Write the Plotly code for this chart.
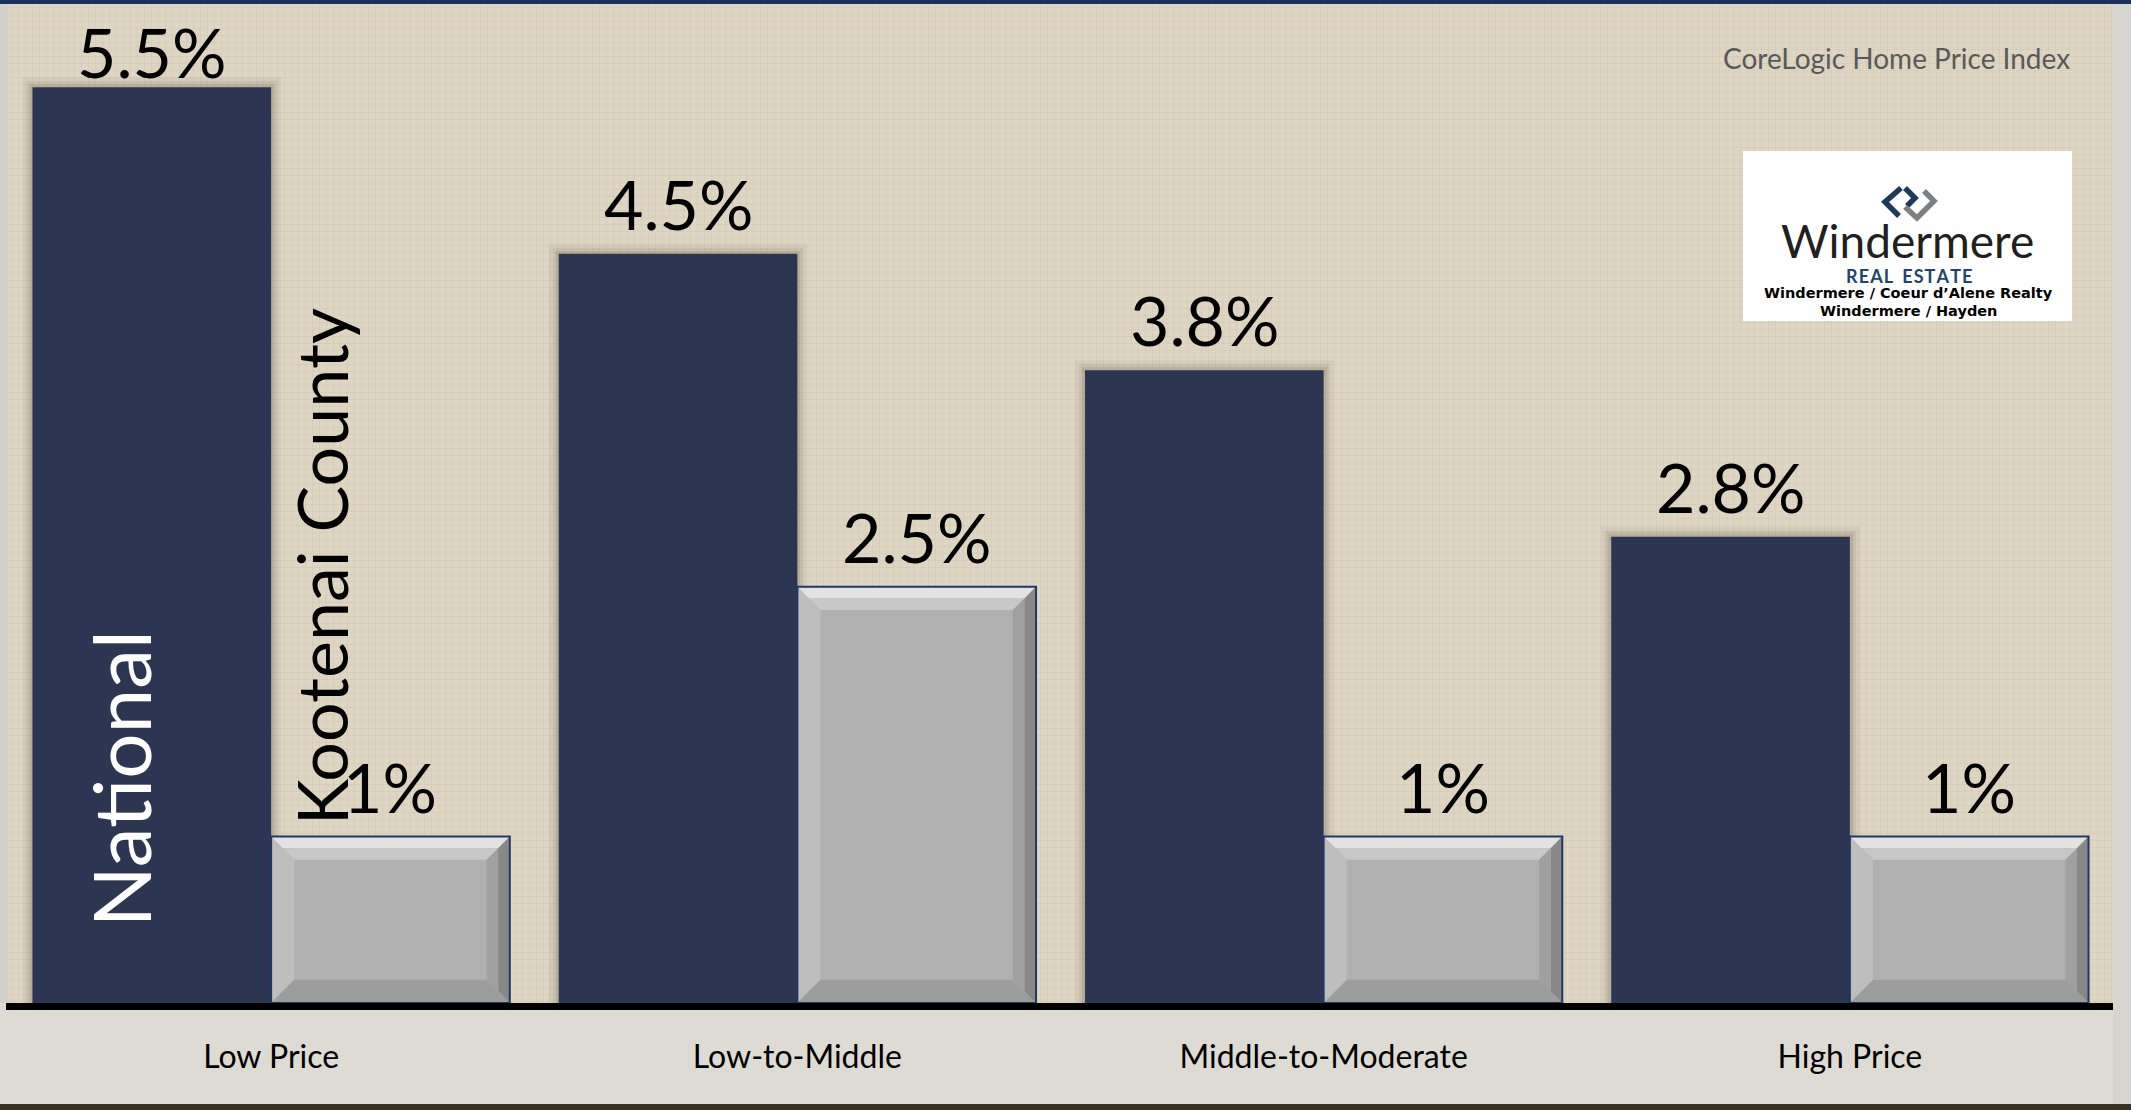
import plotly.graph_objects as go

# ---- data -----------------------------------------------------------------
categories = ["Low Price", "Low-to-Middle", "Middle-to-Moderate", "High Price"]
national = [5.5, 4.5, 3.8, 2.8]
kootenai = [1.0, 2.5, 1.0, 1.0]
series_names = ["National", "Kootenai County"]
source_note = "CoreLogic Home Price Index"

# ---- geometry of the page (pixels) ---------------------------------------
W, H = 2131, 1110
M_L, M_R, M_T, M_B = 8, 18, 4, 107
PW = W - M_L - M_R          # plot width
PH = H - M_T - M_B          # plot height
Y_MAX = 6.0
BARGAP = 0.093
BW = (1 - BARGAP) / 2       # width of one bar in category units

NAVY = "#2c3652"
GREY = "#b0b0b0"
OUTLINE = "#1f3864"


def px_x(px):
    """page pixel x -> paper x"""
    return (px - M_L) / PW


def px_y(py):
    """page pixel y (from top) -> paper y"""
    return (H - M_B - py) / PH


def value_to_px(v):
    """value -> page pixel y"""
    return H - M_B - v * PH / Y_MAX


xs = list(range(len(categories)))
n = len(categories)
UX = 1.0 / (PW / n)          # one pixel in category units
UY = Y_MAX / PH              # one pixel in value units

fig = go.Figure()

# woven linen backdrop filling the plotting area
fig.add_trace(go.Bar(x=[(n - 1) / 2], y=[Y_MAX], width=[n], offset=[-n / 2],
                     marker=dict(color="#ded5c2", line=dict(width=0),
                                 pattern=dict(shape="+", size=7, solidity=0.25,
                                              fgcolor="#c9bea8", fgopacity=0.35)),
                     hoverinfo="skip", showlegend=False))

# soft drop shadow around the national bars
for grow, alpha in [(10, 0.05), (6, 0.07), (3, 0.10)]:
    fig.add_trace(go.Bar(x=xs, y=[v + grow * UY for v in national],
                         width=[BW + 2 * grow * UX] * n,
                         offset=[-BW - grow * UX] * n,
                         marker=dict(color=f"rgba(40,30,15,{alpha})", line=dict(width=0)),
                         hoverinfo="skip", showlegend=False))

fig.add_trace(go.Bar(x=xs, y=national, name=series_names[0],
                     width=[BW] * n, offset=[-BW] * n,
                     marker=dict(color=NAVY, line=dict(width=0)),
                     hoverinfo="skip"))
fig.add_trace(go.Bar(x=xs, y=kootenai, name=series_names[1],
                     width=[BW] * n, offset=[0] * n,
                     marker=dict(color=GREY, line=dict(width=0)),
                     hoverinfo="skip"))

shapes = []

# page furniture: side strips, top rule, baseline, bottom strip
shapes.append(dict(type="rect", xref="paper", yref="paper", layer="below",
                   x0=px_x(0), x1=px_x(M_L), y0=px_y(1003), y1=px_y(0),
                   fillcolor="#d2d0cb", line_width=0))
shapes.append(dict(type="rect", xref="paper", yref="paper", layer="below",
                   x0=px_x(W - M_R), x1=px_x(W), y0=px_y(1104), y1=px_y(0),
                   fillcolor="#d6d4cf", line_width=0))
shapes.append(dict(type="rect", xref="paper", yref="paper", layer="above",
                   x0=px_x(0), x1=px_x(W), y0=px_y(4), y1=px_y(0),
                   fillcolor="#1c3160", line_width=0))
shapes.append(dict(type="rect", xref="paper", yref="paper", layer="above",
                   x0=px_x(M_L - 2), x1=px_x(W - M_R), y0=px_y(1010), y1=px_y(1003),
                   fillcolor="#000000", line_width=0))
shapes.append(dict(type="rect", xref="paper", yref="paper", layer="above",
                   x0=px_x(0), x1=px_x(W), y0=px_y(H), y1=px_y(1104),
                   fillcolor="#3a3026", line_width=0))

# bevelled faces of the county bars
BX = 0.044      # bevel depth, category units
BY = 0.14       # bevel depth, value units


def poly(pts, color):
    d = "M " + " L ".join(f"{x},{y}" for x, y in pts) + " Z"
    return dict(type="path", xref="x", yref="y", path=d, fillcolor=color,
                line_width=0, layer="above")


for i, v in zip(xs, kootenai):
    x0, x1, y0, y1 = i, i + BW, 0.0, v
    # top bevel (two tones for a soft highlight)
    shapes.append(poly([(x0, y1), (x1, y1), (x1 - BX / 2, y1 - BY / 2),
                        (x0 + BX / 2, y1 - BY / 2)], "#e2e2e2"))
    shapes.append(poly([(x0 + BX / 2, y1 - BY / 2), (x1 - BX / 2, y1 - BY / 2),
                        (x1 - BX, y1 - BY), (x0 + BX, y1 - BY)], "#c8c8c8"))
    # left bevel
    shapes.append(poly([(x0, y1), (x0 + BX, y1 - BY), (x0 + BX, y0 + BY),
                        (x0, y0)], "#bebebe"))
    # right bevel (outer dark, inner lighter)
    shapes.append(poly([(x1, y1), (x1, y0), (x1 - BX / 2, y0 + BY / 2),
                        (x1 - BX / 2, y1 - BY / 2)], "#888888"))
    shapes.append(poly([(x1 - BX / 2, y1 - BY / 2), (x1 - BX / 2, y0 + BY / 2),
                        (x1 - BX, y0 + BY), (x1 - BX, y1 - BY)], "#a0a0a0"))
    # bottom bevel
    shapes.append(poly([(x0, y0), (x1, y0), (x1 - BX, y0 + BY),
                        (x0 + BX, y0 + BY)], "#9d9d9d"))
    # thin navy outline
    shapes.append(dict(type="rect", xref="x", yref="y", layer="above",
                       x0=x0, x1=x1, y0=y0, y1=y1,
                       line=dict(color=OUTLINE, width=2), fillcolor="rgba(0,0,0,0)"))

# logo panel
LB = dict(x0=1743, x1=2072, y0=151, y1=321)
shapes.append(dict(type="rect", xref="paper", yref="paper", layer="above",
                   x0=px_x(LB["x0"]), x1=px_x(LB["x1"]),
                   y0=px_y(LB["y1"]), y1=px_y(LB["y0"]),
                   fillcolor="#ffffff", line_width=0))


def pxpath(pts):
    return "M " + " L ".join(f"{px_x(x)},{px_y(y)}" for x, y in pts)


for pts, col in [
    ([(1901, 188), (1885, 202), (1899, 216)], "#1d3a5c"),
    ([(1905, 188), (1915, 198), (1907, 206)], "#1d3a5c"),
    ([(1905, 207), (1917, 218), (1934, 201), (1924, 191)], "#7d7f82"),
]:
    shapes.append(dict(type="path", xref="paper", yref="paper", layer="above",
                       path=pxpath(pts), line=dict(color=col, width=5.5)))

annotations = []

# value labels: sit above each bar, but never closer than this to the top edge
LABEL_GAP = 8
LABEL_CEIL = 94     # minimum distance (px) of the bar top below the page top


def label_shift(v):
    return min(LABEL_GAP, value_to_px(v) - LABEL_CEIL)


for i, v in zip(xs, national):
    annotations.append(dict(x=i - BW / 2, y=v, xref="x", yref="y",
                            text=f"{v:g}%", showarrow=False, yanchor="bottom",
                            yshift=label_shift(v),
                            font=dict(family="Lato", size=68, color="#000000")))
for i, v in zip(xs, kootenai):
    annotations.append(dict(x=i + BW / 2, y=v, xref="x", yref="y",
                            text=f"{v:g}%", showarrow=False, yanchor="bottom",
                            yshift=label_shift(v),
                            font=dict(family="Lato", size=68, color="#000000")))

# series names written vertically on the first group
annotations.append(dict(x=-0.287, y=1.345, xref="x", yref="y", text=series_names[0],
                        textangle=-90, showarrow=False,
                        font=dict(family="Lato", size=80, color="#ffffff")))
annotations.append(dict(x=0.094, y=2.62, xref="x", yref="y", text=series_names[1],
                        textangle=-90, showarrow=False,
                        font=dict(family="Lato", size=70, color="#000000")))

# source note
annotations.append(dict(x=px_x(2072), y=px_y(58), xref="paper", yref="paper",
                        text=source_note, showarrow=False, xanchor="right",
                        yanchor="middle",
                        font=dict(family="Lato", size=28, color="#595959")))

# logo text
annotations += [
    dict(x=px_x(1907), y=px_y(240), xref="paper", yref="paper", text="Windermere",
         showarrow=False, xanchor="center", yanchor="middle",
         font=dict(family="Lato", size=46, color="#231f20")),
    dict(x=px_x(1909), y=px_y(276), xref="paper", yref="paper",
         text="<b>" + "\u200a".join("REAL") + "\u2002" + "\u200a".join("ESTATE") + "</b>",
         showarrow=False, xanchor="center", yanchor="middle",
         font=dict(family="Lato", size=18, color="#22446d")),
    dict(x=px_x(1908), y=px_y(293), xref="paper", yref="paper",
         text="<b>Windermere / Coeur d\u2019Alene Realty</b>",
         showarrow=False, xanchor="center", yanchor="middle",
         font=dict(family="DejaVu Sans", size=14.5, color="#000000")),
    dict(x=px_x(1908), y=px_y(311), xref="paper", yref="paper",
         text="<b>Windermere / Hayden</b>",
         showarrow=False, xanchor="center", yanchor="middle",
         font=dict(family="DejaVu Sans", size=14.5, color="#000000")),
]

fig.update_layout(
    width=W, height=H,
    margin=dict(l=M_L, r=M_R, t=M_T, b=M_B, pad=0),
    paper_bgcolor="#dddbd4",
    plot_bgcolor="#ded5c2",
    barmode="overlay",
    showlegend=False,
    shapes=shapes,
    annotations=annotations,
    xaxis=dict(range=[-0.5, n - 0.5], tickvals=xs, ticktext=categories,
               showgrid=False, zeroline=False, showline=False,
               ticks="outside", ticklen=26, tickcolor="rgba(0,0,0,0)",
               tickfont=dict(family="Lato", size=32, color="#000000"),
               fixedrange=True),
    yaxis=dict(range=[0, Y_MAX], showgrid=False, zeroline=False, showline=False,
               showticklabels=False, ticks="", fixedrange=True),
)

fig.write_html("out.html", config={"displayModeBar": False})
